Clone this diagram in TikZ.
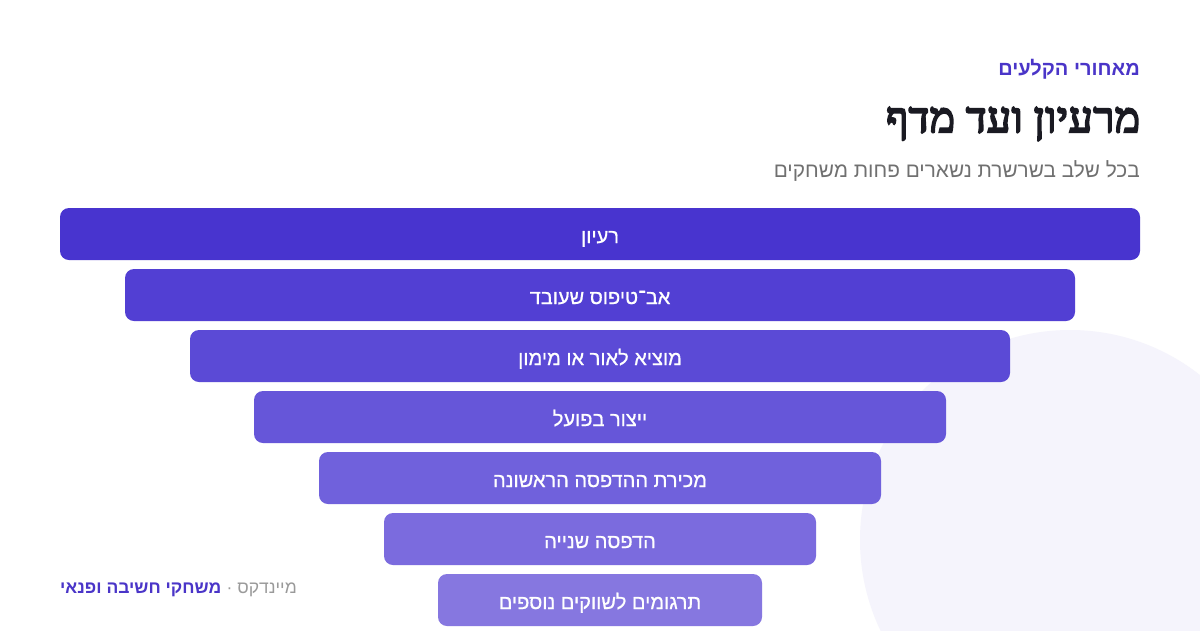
\documentclass[tikz,border=0pt]{standalone}
\usepackage{fontspec}
\TeXXeTstate=1
\newfontfamily\hesans[Script=Hebrew]{Liberation Sans}
\newfontfamily\hesansmed[Script=Hebrew,FakeBold=0.7]{Liberation Sans}
\newfontfamily\heserif[Script=Hebrew,FakeBold=5,LetterSpace=2]{Liberation Serif}
\definecolor{accent}{HTML}{4A35C8}
\definecolor{titlec}{HTML}{1A1A22}
\definecolor{subc}{HTML}{707070}
\definecolor{footgray}{HTML}{9A9A9A}
\definecolor{circ}{HTML}{F5F4FC}
\definecolor{barA}{HTML}{4834CF}
\definecolor{barB}{HTML}{523FD3}
\definecolor{barC}{HTML}{5B4AD6}
\definecolor{barD}{HTML}{6656D9}
\definecolor{barE}{HTML}{7061DC}
\definecolor{barF}{HTML}{7B6BDE}
\definecolor{barG}{HTML}{8677E0}
\tikzset{
  bar/.style={rounded corners=9pt, minimum height=52pt, inner sep=0pt, text=white,
    text height=18pt, text depth=0pt,
    font=\hesansmed\fontsize{20}{24}\selectfont},
  eyebrow/.style={anchor=east, inner sep=0pt, text=accent, font=\hesans\bfseries\fontsize{20}{22}\selectfont},
  titlestyle/.style={anchor=east, inner sep=0pt, text=titlec, font=\heserif\fontsize{42}{46}\selectfont},
  substyle/.style={anchor=east, inner sep=0pt, text=subc, font=\hesans\fontsize{20.8}{26}\selectfont},
  footbold/.style={anchor=west, inner sep=0pt, text=accent, font=\hesans\bfseries\fontsize{17.5}{20}\selectfont},
  footlight/.style={anchor=west, inner sep=0pt, text=footgray, font=\hesans\fontsize{17.5}{20}\selectfont},
}
\begin{document}
\begin{tikzpicture}[x=1pt,y=-1pt]
\useasboundingbox[fill=white] (0,0) rectangle (1200,630);
\fill[circ] (1070,540) circle (210);
\node[eyebrow] (eyebrow) at (1140,69) {\beginR מאחורי הקלעים\endR};
\node[titlestyle] (title) at (1140,124) {\beginR מרעיון ועד מדף\endR};
\node[substyle] (subtitle) at (1140,171) {\beginR בכל שלב בשרשרת נשארים פחות משחקים\endR};
\node[bar, fill=barA, minimum width=1080pt] (s1) at (600,234) {\beginR רעיון\endR};
\node[bar, fill=barB, minimum width=950pt] (s2) at (600,295) {\beginR אב־טיפוס שעובד\endR};
\node[bar, fill=barC, minimum width=820pt] (s3) at (600,356) {\beginR מוציא לאור או מימון\endR};
\node[bar, fill=barD, minimum width=692pt] (s4) at (600,417) {\beginR ייצור בפועל\endR};
\node[bar, fill=barE, minimum width=562pt] (s5) at (600,478) {\beginR מכירת ההדפסה הראשונה\endR};
\node[bar, fill=barF, minimum width=432pt] (s6) at (600,539) {\beginR הדפסה שנייה\endR};
\node[bar, fill=barG, minimum width=324pt] (s7) at (600,600) {\beginR תרגומים לשווקים נוספים\endR};
\node[footbold] (brand) at (60,590) {\beginR משחקי חשיבה ופנאי\endR};
\node[footlight, anchor=west] (maker) at ([xshift=5pt]brand.east) {\beginR מיינדקס ·\endR};
\end{tikzpicture}
\end{document}
